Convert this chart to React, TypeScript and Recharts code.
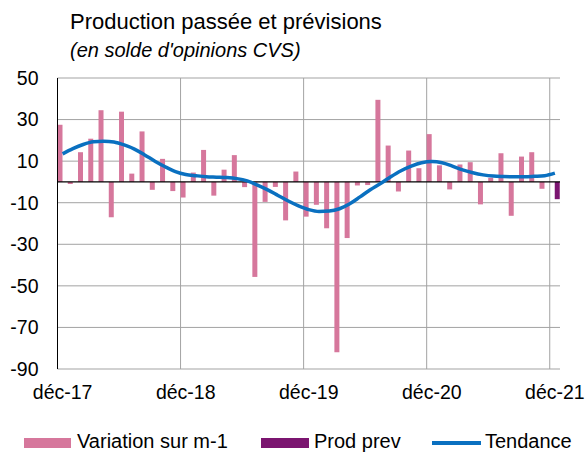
import React from 'react';
import { ComposedChart, Bar, Line, XAxis, YAxis, CartesianGrid, ReferenceLine } from 'recharts';

const months = [
  'déc-17', 'janv-18', 'févr-18', 'mars-18', 'avr-18', 'mai-18', 'juin-18', 'juil-18', 'août-18', 'sept-18', 'oct-18', 'nov-18',
  'déc-18', 'janv-19', 'févr-19', 'mars-19', 'avr-19', 'mai-19', 'juin-19', 'juil-19', 'août-19', 'sept-19', 'oct-19', 'nov-19',
  'déc-19', 'janv-20', 'févr-20', 'mars-20', 'avr-20', 'mai-20', 'juin-20', 'juil-20', 'août-20', 'sept-20', 'oct-20', 'nov-20',
  'déc-20', 'janv-21', 'févr-21', 'mars-21', 'avr-21', 'mai-21', 'juin-21', 'juil-21', 'août-21', 'sept-21', 'oct-21', 'nov-21',
  'déc-21',
];

// Variation sur m-1 (no value for the last month)
const variation: (number | null)[] = [
  27.5, -1, 14.3, 20.8, 34.5, -17, 33.8, 4, 24.3, -3.8, 11.1, -4.4,
  -7.5, 4.5, 15.4, -6.6, 5.9, 12.9, -2.5, -45.7, -9.6, -2.4, -18.5, 5,
  -16.7, -11, -22.3, -82, -27, -1.7, -1.5, 39.5, 17.5, -4.6, 15.1, 6.6,
  23, 8, -3.6, 8.4, 9.5, -10.8, 2, 13.8, -16.3, 12.2, 14.3, -3.3,
  null,
];

// Prod prev : only the forecast month
const prodPrev: (number | null)[] = [...Array(48).fill(null), -8.3];

const tendance = [
  13.5, 16, 18, 19.3, 19.6, 19.2, 17.8, 15.8, 13, 10, 7.3, 5,
  3.6, 3, 2.5, 2.3, 2.1, 1.6, 0.5, -1.5, -3.8, -6.5, -9.2, -11.5,
  -13.3, -14.2, -14, -12.9, -10.5, -7.2, -3.8, -0.8, 2.5, 5.4, 7.6, 9.2,
  9.8, 9.2, 7.6, 5.8, 4.4, 3.4, 2.8, 2.6, 2.5, 2.5, 2.7, 3,
  4.2,
];

const yTicks = [-90, -70, -50, -30, -10, 10, 30, 50];

const data = months.map((m, i) => ({
  month: m,
  variation: variation[i],
  prev: prodPrev[i],
  tendance: tendance[i],
}));

const FONT = '"Liberation Sans", Arial, sans-serif';
const PINK = '#d6779c';
const PURPLE = '#7b1570';
const BLUE = '#0a70c0';
const GRID = '#a3a3a3';

const MonthTick = (props: any) => {
  const { x, y, payload } = props;
  if (!String(payload.value).startsWith('déc')) return <g />;
  return (
    <text x={x} y={y} dy="0.71em" textAnchor="middle" fill="#000" fontSize={19.5} fontFamily={FONT}>
      {payload.value}
    </text>
  );
};

// vertical gridlines on the left edge of each december band
const yearLines = (props: any) => {
  const off = props.offset;
  const band = off.width / months.length;
  const xs: number[] = [];
  months.forEach((m, i) => {
    if (i > 0 && m.startsWith('déc')) xs.push(off.left + i * band);
  });
  return xs;
};

export default function App() {
  return (
    <div style={{ position: 'absolute', left: 0, top: 0, width: 586, height: 453, background: '#fff', fontFamily: FONT }}>
      <div style={{ position: 'absolute', left: 70, top: 11, fontSize: 22, lineHeight: 1, whiteSpace: 'nowrap' }}>
        Production passée et prévisions
      </div>
      <div style={{ position: 'absolute', left: 70, top: 40, fontSize: 20, lineHeight: 1, fontStyle: 'italic', whiteSpace: 'nowrap' }}>
        (en solde d'opinions CVS)
      </div>

      <div style={{ position: 'absolute', left: 0, top: 0 }}>
        <ComposedChart
          width={586}
          height={453}
          data={data}
          margin={{ top: 78, right: 26, bottom: 44, left: 0 }}
          barCategoryGap={0}
          barGap={0}
        >
          <CartesianGrid stroke={GRID} verticalCoordinatesGenerator={yearLines} />
          <XAxis
            dataKey="month"
            interval={0}
            axisLine={false}
            tickLine={false}
            tickSize={0}
            tickMargin={16}
            height={40}
            tick={<MonthTick />}
          />
          <YAxis
            type="number"
            domain={[-90, 50]}
            ticks={yTicks}
            width={57.5}
            axisLine={{ stroke: '#000' }}
            tickLine={false}
            tickSize={0}
            tickMargin={19}
            tick={{ fill: '#000', fontSize: 19.5, fontFamily: FONT }}
          />
          <Bar dataKey="variation" fill={PINK} isAnimationActive={false} />
          <Bar dataKey="prev" fill={PURPLE} isAnimationActive={false} />
          <ReferenceLine y={0} stroke="#000" strokeWidth={1.3} />
          <Line
            type="monotone"
            dataKey="tendance"
            stroke={BLUE}
            strokeWidth={3.5}
            dot={false}
            isAnimationActive={false}
          />
        </ComposedChart>
      </div>

      {/* legend */}
      <div style={{ position: 'absolute', left: 24, top: 438, width: 47, height: 10, background: PINK }} />
      <div style={{ position: 'absolute', left: 77, top: 431, fontSize: 20, lineHeight: 1, whiteSpace: 'nowrap' }}>Variation sur m-1</div>
      <div style={{ position: 'absolute', left: 261, top: 438, width: 48, height: 10, background: PURPLE }} />
      <div style={{ position: 'absolute', left: 314, top: 431, fontSize: 20, lineHeight: 1, whiteSpace: 'nowrap' }}>Prod prev</div>
      <div style={{ position: 'absolute', left: 432, top: 441, width: 49, height: 3.5, background: BLUE }} />
      <div style={{ position: 'absolute', left: 485, top: 431, fontSize: 20, lineHeight: 1, whiteSpace: 'nowrap' }}>Tendance</div>
    </div>
  );
}
